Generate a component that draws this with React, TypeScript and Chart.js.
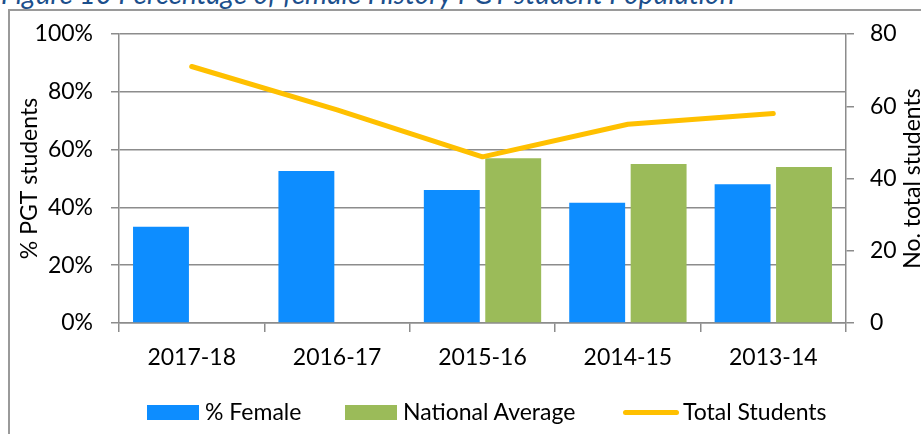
import React, { useEffect, useRef } from "react";
import { Chart, registerables } from "chart.js";

Chart.register(...registerables);

const FIGURE_TITLE = "Figure 10 Percentage of female History PGT student Population";
const categories = ["2017-18", "2016-17", "2015-16", "2014-15", "2013-14"];
const femalePct = [33.3, 52.6, 46, 41.6, 48];
const nationalAvgPct = [null, null, 57, 55, 54];
const totalStudents = [71, 59, 46, 55, 58];
const seriesLabels = ["% Female", "National Average", "Total Students"];
const leftAxisTitle = "% PGT students";
const rightAxisTitle = "No. total students";
const leftAxisMax = 100;
const leftAxisStep = 20;
const rightAxisMax = 80;
const rightAxisStep = 20;

const FONT = "Lato, 'Open Sans', sans-serif";
const BLUE = "#0D8DFF";
const GREEN = "#9BBB59";
const YELLOW = "#FFC000";
const GRID = "#8C8C8C";
const TEXT = "#000000";

const rightTitlePlugin = {
  id: "rightTitle",
  afterDraw(chart: any) {
    const { ctx, chartArea } = chart;
    const s = chart.scales.y1;
    ctx.save();
    ctx.translate(s.right - 8, (chartArea.top + chartArea.bottom) / 2);
    ctx.rotate(-Math.PI / 2);
    ctx.font = `23px ${FONT}`;
    ctx.fillStyle = TEXT;
    ctx.textAlign = "center";
    ctx.textBaseline = "middle";
    ctx.fillText(rightAxisTitle, 0, 0);
    ctx.restore();
  },
};

export default function App() {
  const canvasRef = useRef<HTMLCanvasElement | null>(null);

  useEffect(() => {
    if (!canvasRef.current) return;
    const chart = new Chart(canvasRef.current, {
      type: "bar",
      data: {
        labels: categories,
        datasets: [
          {
            type: "line",
            label: seriesLabels[2],
            data: totalStudents,
            yAxisID: "y1",
            borderColor: YELLOW,
            backgroundColor: YELLOW,
            borderWidth: 5,
            borderCapStyle: "round",
            borderJoinStyle: "round",
            pointRadius: 0,
            tension: 0,
            order: 0,
          } as any,
          {
            type: "bar",
            label: seriesLabels[0],
            data: femalePct,
            yAxisID: "y",
            backgroundColor: BLUE,
            borderWidth: 0,
            categoryPercentage: 0.845,
            barPercentage: 0.91,
            order: 1,
          },
          {
            type: "bar",
            label: seriesLabels[1],
            data: nationalAvgPct as any,
            yAxisID: "y",
            backgroundColor: GREEN,
            borderWidth: 0,
            categoryPercentage: 0.845,
            barPercentage: 0.91,
            order: 1,
          },
        ],
      },
      options: {
        responsive: false,
        animation: false,
        devicePixelRatio: 1,
        layout: { padding: { top: 34, left: 0, right: 0, bottom: 61 } },
        plugins: {
          legend: { display: false },
          tooltip: { enabled: false },
          title: { display: false },
        },
        scales: {
          x: {
            grid: {
              display: true,
              drawOnChartArea: false,
              drawTicks: true,
              tickLength: 9,
              color: GRID,
              lineWidth: 1.5,
              offset: true,
            },
            border: { display: true, color: GRID, width: 1.5 },
            ticks: {
              color: TEXT,
              font: { family: FONT, size: 23 },
              padding: 12,
              maxRotation: 0,
            },
            afterFit(scale: any) {
              scale.height = 50;
            },
          },
          y: {
            position: "left",
            min: 0,
            max: leftAxisMax,
            ticks: {
              stepSize: leftAxisStep,
              color: TEXT,
              font: { family: FONT, size: 23 },
              padding: 18,
              callback: (v: any) => `${v}%`,
            },
            grid: {
              color: GRID,
              lineWidth: 1.5,
              tickLength: 8,
              drawTicks: true,
            },
            border: { display: true, color: GRID, width: 1.5 },
            title: {
              display: true,
              text: leftAxisTitle,
              color: TEXT,
              font: { family: FONT, size: 23 },
              padding: { top: 16, bottom: 0 },
            },
            afterFit(scale: any) {
              scale.width = 119;
            },
          },
          y1: {
            position: "right",
            min: 0,
            max: rightAxisMax,
            ticks: {
              stepSize: rightAxisStep,
              color: TEXT,
              font: { family: FONT, size: 23 },
              padding: 16,
            },
            grid: {
              drawOnChartArea: false,
              color: GRID,
              lineWidth: 1.5,
              tickLength: 8,
              drawTicks: true,
            },
            border: { display: true, color: GRID, width: 1.5 },
            afterFit(scale: any) {
              scale.width = 75;
            },
          },
        },
      },
      plugins: [rightTitlePlugin],
    });
    return () => chart.destroy();
  }, []);

  const legendItems = [
    { label: seriesLabels[0], color: BLUE, kind: "box", x: 147 },
    { label: seriesLabels[1], color: GREEN, kind: "box", x: 345 },
    { label: seriesLabels[2], color: YELLOW, kind: "line", x: 623 },
  ];

  return (
    <div
      style={{
        position: "fixed",
        left: 0,
        top: 0,
        width: 921,
        height: 434,
        overflow: "hidden",
        background: "#ffffff",
      }}
    >
      <div
        style={{
          position: "absolute",
          left: 1,
          top: -21,
          font: `italic 28px/28px ${FONT}`,
          color: "#1C4F8C",
          whiteSpace: "nowrap",
        }}
      >
        {FIGURE_TITLE}
      </div>
      <div
        style={{
          position: "absolute",
          left: 8,
          top: 9,
          width: 1000,
          height: 1000,
          borderLeft: "2px solid #9A9A9A",
          borderTop: "2px solid #9A9A9A",
        }}
      />
      <canvas
        ref={canvasRef}
        width={921}
        height={434}
        style={{ position: "absolute", left: 0, top: 0, width: 921, height: 434, display: "block" }}
      />
      {legendItems.map((it) => (
        <div key={it.label} style={{ position: "absolute", left: it.x, top: 400, height: 23, display: "flex", alignItems: "center" }}>
          {it.kind === "box" ? (
            <div style={{ width: 52, height: 15, background: it.color, marginTop: 2 }} />
          ) : (
            <div style={{ width: 56, height: 5, borderRadius: 3, background: it.color, marginTop: 1 }} />
          )}
          <span
            style={{
              marginLeft: it.kind === "box" ? 6 : 4,
              font: `23px/23px ${FONT}`,
              color: TEXT,
              whiteSpace: "nowrap",
            }}
          >
            {it.label}
          </span>
        </div>
      ))}
    </div>
  );
}
